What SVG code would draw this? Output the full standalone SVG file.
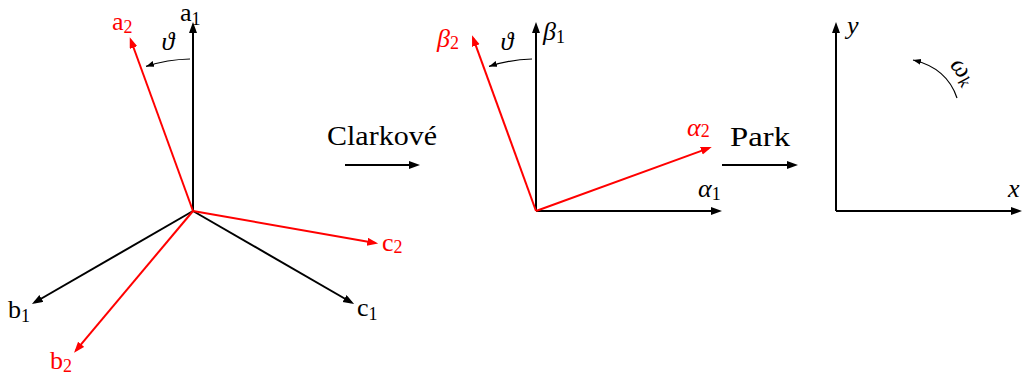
<svg xmlns="http://www.w3.org/2000/svg" width="1024" height="380" viewBox="0 0 1024 380">
<defs>
<marker id="ak" markerUnits="userSpaceOnUse" markerWidth="12" markerHeight="9" refX="8" refY="4" orient="auto">
<path d="M0,0 L11,4 L0,8 z" fill="#000"/>
</marker>
<marker id="ar" markerUnits="userSpaceOnUse" markerWidth="12" markerHeight="9" refX="8" refY="4" orient="auto">
<path d="M0,0 L11,4 L0,8 z" fill="#f00"/>
</marker>
<marker id="as" markerUnits="userSpaceOnUse" markerWidth="9" markerHeight="7" refX="8" refY="3" orient="auto">
<path d="M0,0 L8,3 L0,6 z" fill="#000"/>
</marker>
</defs>
<g id="connectors" fill="none" stroke-width="2">
<g stroke="#000" marker-end="url(#ak)">
<line x1="193" y1="211" x2="193" y2="25"/>
<line x1="193" y1="211" x2="34.5" y2="302.5"/>
<line x1="193" y1="211" x2="351.5" y2="302.5"/>
<line x1="345" y1="165" x2="417" y2="165"/>
<line x1="536" y1="211" x2="536" y2="25"/>
<line x1="536" y1="211" x2="719" y2="211"/>
<line x1="722" y1="165" x2="795" y2="165"/>
<line x1="836" y1="211" x2="836" y2="25"/>
<line x1="836" y1="211" x2="1019" y2="211"/>
</g>
<g stroke="#f00" marker-end="url(#ar)">
<line x1="193" y1="211" x2="130.8" y2="40"/>
<line x1="193" y1="211" x2="76" y2="350.4"/>
<line x1="193" y1="211" x2="375.2" y2="243.1"/>
<line x1="536" y1="211" x2="473.1" y2="38.1"/>
<line x1="536" y1="211" x2="708.9" y2="148.1"/>
</g>
<g stroke="#000" stroke-width="1.2" marker-end="url(#as)">
<path d="M190,59 A152,152 0 0 0 146,66.4"/>
<path d="M532,59 A152,152 0 0 0 489,66.4"/>
<path d="M957,98 Q947,68 913,60"/>
</g>
</g>
<g id="labels">
<g id="label-a1"><text style="font-family:'Liberation Serif',serif;font-size:26px" x="180" y="21">a<tspan style="font-size:18px" dy="4">1</tspan></text></g>
<g id="label-b1"><text style="font-family:'Liberation Serif',serif;font-size:26px" x="8" y="318">b<tspan style="font-size:18px" dy="4">1</tspan></text></g>
<g id="label-c1"><text style="font-family:'Liberation Serif',serif;font-size:26px" x="357" y="316">c<tspan style="font-size:18px" dy="4">1</tspan></text></g>
<g id="label-a2"><text style="font-family:'Liberation Serif',serif;font-size:26px;fill:#f00" x="112" y="30">a<tspan style="font-size:18px" dy="3">2</tspan></text></g>
<g id="label-b2"><text style="font-family:'Liberation Serif',serif;font-size:26px;fill:#f00" x="50" y="369">b<tspan style="font-size:18px" dy="3">2</tspan></text></g>
<g id="label-c2"><text style="font-family:'Liberation Serif',serif;font-size:26px;fill:#f00" x="382" y="251">c<tspan style="font-size:18px" dy="2">2</tspan></text></g>
<g id="label-theta1"><text style="font-family:'Liberation Serif',serif;font-size:26px;font-style:italic" x="168" y="50" text-anchor="middle">ϑ</text></g>
<g id="label-clarke"><text style="font-family:'Liberation Serif',serif;font-size:28px" x="327" y="145" textLength="110" lengthAdjust="spacingAndGlyphs">Clarkové</text></g>
<g id="label-beta1"><text style="font-family:'Liberation Serif',serif;font-size:26px" x="543" y="40"><tspan style="font-style:italic">β</tspan><tspan style="font-size:18px" dy="3">1</tspan></text></g>
<g id="label-beta2"><text style="font-family:'Liberation Serif',serif;font-size:26px;fill:#f00" x="437" y="47"><tspan style="font-style:italic">β</tspan><tspan style="font-size:18px" dy="2">2</tspan></text></g>
<g id="label-theta2"><text style="font-family:'Liberation Serif',serif;font-size:26px;font-style:italic" x="507" y="50" text-anchor="middle">ϑ</text></g>
<g id="label-alpha2"><text style="font-family:'Liberation Serif',serif;font-size:26px;fill:#f00" x="687" y="136"><tspan style="font-style:italic">α</tspan><tspan style="font-size:18px" dy="1">2</tspan></text></g>
<g id="label-alpha1"><text style="font-family:'Liberation Serif',serif;font-size:26px" x="698" y="197"><tspan style="font-style:italic">α</tspan><tspan style="font-size:18px" dy="3">1</tspan></text></g>
<g id="label-park"><text style="font-family:'Liberation Serif',serif;font-size:28px" x="730" y="146" textLength="60" lengthAdjust="spacingAndGlyphs">Park</text></g>
<g id="label-y"><text style="font-family:'Liberation Serif',serif;font-size:26px;font-style:italic" x="847" y="34">y</text></g>
<g id="label-x"><text style="font-family:'Liberation Serif',serif;font-size:26px;font-style:italic" x="1008" y="197">x</text></g>
<g id="label-omega"><text style="font-family:'Liberation Serif',serif;font-size:26px;font-style:italic" transform="translate(962,72) rotate(52)" text-anchor="middle" y="6">ω<tspan style="font-size:18px" dy="4">k</tspan></text></g>
</g>
</svg>
